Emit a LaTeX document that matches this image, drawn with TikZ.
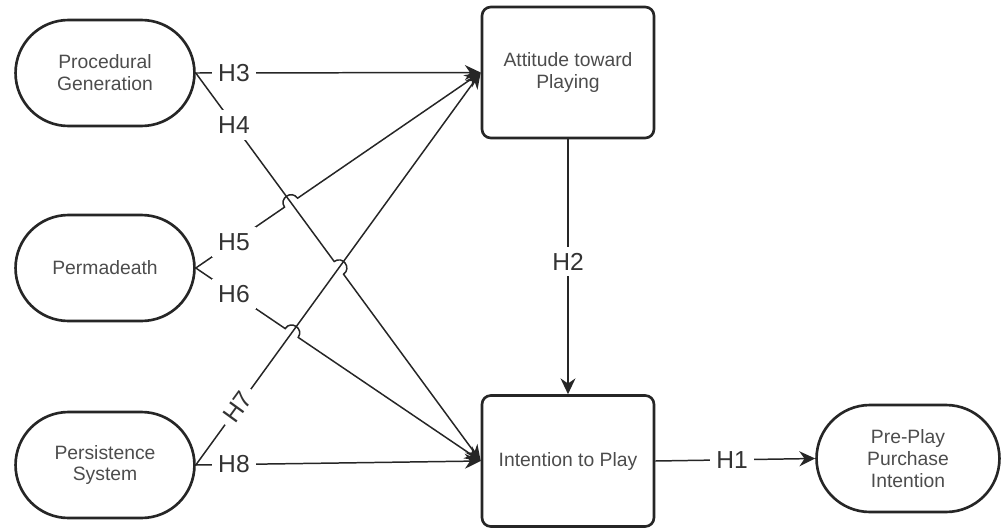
\documentclass[tikz,border=0pt]{standalone}
\usepackage{fontspec}
\setmainfont{Liberation Sans}
\usetikzlibrary{calc,shapes.misc,arrows.meta}

\begin{document}
\begin{tikzpicture}[x=0.02cm,y=-0.02cm,
	latent/.style={rounded rectangle, draw=black!85, line width=1.5pt, minimum width=3.72cm, minimum height=2.12cm, inner sep=2pt, align=center, text=black!70, font=\fontsize{11}{12.5}\selectfont},
	construct/.style={rectangle, rounded corners=5pt, draw=black!85, line width=1.5pt, minimum width=3.44cm, minimum height=2.62cm, align=center, text=black!70, font=\fontsize{11}{12.5}\selectfont},
	hlab/.style={fill=white, inner sep=3.5pt, text=black!80, font=\fontsize{14}{16}\selectfont},
	hyp/.style={line width=0.85pt, draw=black!85, -{Stealth[length=9pt,width=8.5pt]}},
	hop/.style={bend left=90, looseness=1.7}]

	\useasboundingbox (0,0) rectangle (1005,528);

	%constructs
	\node[latent] (pg) at (105,73) {Procedural\\Generation};
	\node[latent] (pd) at (105,268) {Permadeath};
	\node[latent] (ps) at (105,465) {Persistence\\System};
	\node[construct] (att) at (568,72.5) {Attitude toward\\Playing};
	\node[construct] (itp) at (568,461) {Intention to Play};
	\node[latent, minimum width=3.8cm, minimum height=2.14cm] (ppi) at (908,458.5) {Pre-Play\\Purchase\\Intention};

	%crossings
	\coordinate (hopA) at (intersection of pg.east--itp.west and pd.east--att.west);
	\coordinate (hopB) at (intersection of pg.east--itp.west and ps.east--att.west);
	\coordinate (hopC) at (intersection of pd.east--itp.west and ps.east--att.west);

	%paths
	\draw[hyp] (pg.east) -- (att.west);
	\draw[hyp] (pg.east) -- ($(hopB)!4.5pt!(pg.east)$) to[hop] ($(hopB)!4.5pt!(itp.west)$) -- (itp.west);
	\draw[hyp] (pd.east) -- ($(hopA)!4.5pt!(pd.east)$) to[hop] ($(hopA)!4.5pt!(att.west)$) -- (att.west);
	\draw[hyp] (pd.east) -- ($(hopC)!4.5pt!(pd.east)$) to[hop] ($(hopC)!4.5pt!(itp.west)$) -- (itp.west);
	\draw[hyp] (ps.east) -- (att.west);
	\draw[hyp] (ps.east) -- (itp.west);
	\draw[hyp] (att.south) -- (itp.north);
	\draw[hyp] (itp.east) -- (ppi.west);

	%labels
	\foreach \s/\t/\l in {pg/att/H3, pg/itp/H4, pd/att/H5, pd/itp/H6, ps/itp/H8} {
		\path (\s.east) -- (\t.west) node[hlab, pos=0.134] (\l) {\l};
	}
	\path (ps.east) -- (att.west) node[hlab, sloped, pos=0.148] (H7) {H7};
	\path (att.south) -- (itp.north) node[hlab, pos=0.48] (H2) {H2};
	\path (itp.east) -- (ppi.west) node[hlab, pos=0.48] (H1) {H1};
\end{tikzpicture}
\end{document}
